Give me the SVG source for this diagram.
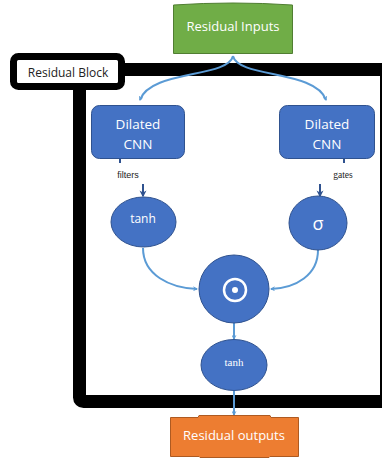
<svg xmlns="http://www.w3.org/2000/svg" width="382" height="459" viewBox="0 0 382 459">
<defs>
<style>
.lbl{font-family:"Open Sans","Liberation Sans",sans-serif;fill:#ffffff;text-anchor:middle}
.blue{fill:#4472C4;stroke:#2F528F;stroke-width:1}
.conn{fill:none;stroke:#5B9BD5;stroke-width:2}
.dark{fill:none;stroke:#2F528F;stroke-width:2}
</style>
<marker id="ah" viewBox="0 0 10 10" refX="8" refY="5" markerWidth="5" markerHeight="5" orient="auto-start-reverse" markerUnits="userSpaceOnUse">
<path d="M0,0 L10,5 L0,10 L3,5 z" fill="#5B9BD5"/>
</marker>
<marker id="ahd" viewBox="0 0 10 10" refX="8" refY="5" markerWidth="7" markerHeight="8" orient="auto" markerUnits="userSpaceOnUse">
<path d="M0,0 L10,5 L0,10 L3,5 z" fill="#2F528F"/>
</marker>
</defs>
<rect width="382" height="459" fill="#ffffff"/>
<g id="frame">
<rect x="79.5" y="69.5" width="307" height="332" rx="4" fill="none" stroke="#000" stroke-width="13"/>
</g>
<g id="residual-block-label">
<rect x="13.5" y="56.5" width="108" height="30" rx="5" fill="#fff" stroke="#000" stroke-width="7"/>
<text x="68" y="76.5" font-family="'Open Sans','Liberation Sans',sans-serif" font-size="12" text-anchor="middle" fill="#222">Residual Block</text>
</g>
<g id="connectors">
<path class="conn" d="M233,56 C228,78 150,70 140,100" marker-end="url(#ah)"/>
<path class="conn" d="M233,56 C238,78 316,70 326,100" marker-end="url(#ah)"/>
<path class="dark" d="M120,158 L120,163"/>
<path class="dark" d="M344,158 L344,163"/>
<path class="dark" d="M143,184 L143,196" marker-end="url(#ahd)"/>
<path class="dark" d="M320,184 L320,196" marker-end="url(#ahd)"/>
<path class="conn" d="M143,248 C143,275 170,288 197,289" marker-end="url(#ah)"/>
<path class="conn" d="M318,250 C318,275 296,288 271,289" marker-end="url(#ah)"/>
<path class="conn" d="M234,323 L234,339" marker-end="url(#ah)"/>
<path class="conn" d="M234,391 L234,415" marker-end="url(#ah)"/>
</g>
<g id="residual-inputs">
<path d="M173.5,5 Q233,1 292.5,5 L292.5,53.5 L173.5,53.5 Z" fill="#70AD47" stroke="#507E32" stroke-width="1"/>
<text class="lbl" x="233" y="31" font-size="13">Residual Inputs</text>
</g>
<g id="cnn-left">
<rect class="blue" x="91.5" y="105.5" width="93" height="53" rx="8"/>
<text class="lbl" x="138" y="129" font-size="13.5">Dilated</text>
<text class="lbl" x="138" y="149" font-size="13.5">CNN</text>
</g>
<g id="cnn-right">
<rect class="blue" x="279.5" y="105.5" width="95" height="53" rx="8"/>
<text class="lbl" x="327" y="129" font-size="13.5">Dilated</text>
<text class="lbl" x="327" y="149" font-size="13.5">CNN</text>
</g>
<g id="filters-label">
<text x="128" y="178" font-family="'Liberation Sans',sans-serif" font-size="9" text-anchor="middle" fill="#222">filters</text>
</g>
<g id="gates-label">
<text x="343" y="178" font-family="'Liberation Serif',serif" font-size="9.5" text-anchor="middle" fill="#222">gates</text>
</g>
<g id="tanh-left">
<ellipse class="blue" cx="143.5" cy="222" rx="32.5" ry="25"/>
<text class="lbl" x="143" y="223" font-size="12">tanh</text>
</g>
<g id="sigma">
<ellipse class="blue" cx="318" cy="223" rx="29" ry="27"/>
<text class="lbl" x="318" y="230" font-size="18">σ</text>
</g>
<g id="product">
<ellipse class="blue" cx="234" cy="289" rx="35" ry="34"/>
<circle cx="235" cy="290" r="11" fill="none" stroke="#fff" stroke-width="2.5"/>
<circle cx="235" cy="290" r="3" fill="#fff"/>
</g>
<g id="tanh-out">
<ellipse class="blue" cx="234" cy="365" rx="33" ry="25.5"/>
<text x="234" y="366" font-family="'Liberation Serif',serif" font-size="11" text-anchor="middle" fill="#fff">tanh</text>
</g>
<g id="residual-outputs">
<path d="M170.5,417.5 L198,417.5 L199,415.5 L270,415.5 L271,417.5 L298.5,417.5 L298.5,456.5 L270,456.5 L269,457.5 L200,457.5 L199,456.5 L170.5,456.5 Z" fill="#ED7D31" stroke="#AE5A21" stroke-width="1"/>
<text class="lbl" x="234" y="440" font-size="13">Residual outputs</text>
</g>
</svg>
